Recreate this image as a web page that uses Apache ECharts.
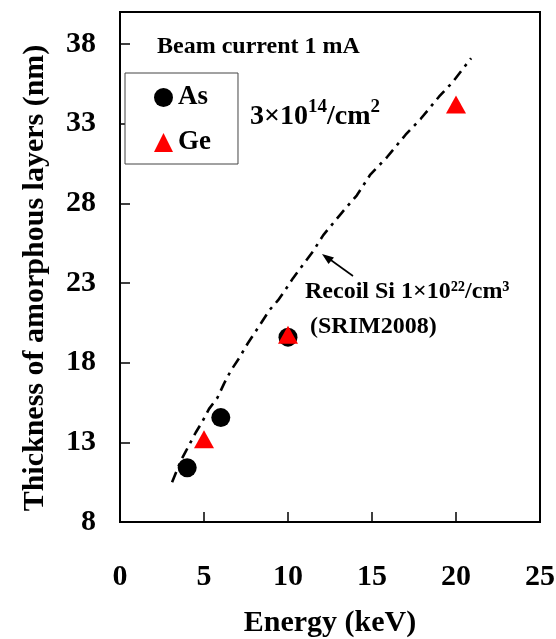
<!DOCTYPE html>
<html>
<head>
<meta charset="utf-8">
<script src="https://cdn.jsdelivr.net/npm/echarts@6/dist/echarts.min.js"></script>
<style>
  html, body { margin: 0; padding: 0; background: #fff; }
  #chart { width: 556px; height: 639px; }
</style>
</head>
<body>
<div id="chart"></div>
<script>
// Amorphous layer thickness vs. implant energy
const SERIF = "'Liberation Serif', 'Times New Roman', serif";

// Measured points: [energy keV, thickness nm]
const asPoints = [[4, 11.4], [6, 14.55], [10, 19.6]];
const gePoints = [[5, 13.2], [10, 19.75], [20, 34.2]];

// SRIM2008 recoil Si range curve
const srimEnergy = [3.1, 3.6, 3.9, 4.5, 4.9, 5.3, 5.8, 6.2, 6.6, 7.1, 7.6, 8.1, 8.9, 9.4, 9.8,
                    10.3, 11.5, 12.1, 13.2, 14.1, 14.9, 15.9, 17.0, 17.9, 19.0, 19.8, 20.9];
const srimDepth  = [10.5, 11.8, 12.4, 13.6, 14.3, 15.1, 15.8, 16.7, 17.5, 18.3, 19.2, 20.0, 21.3, 21.9, 22.5,
                    23.3, 25.0, 26.0, 27.4, 28.5, 29.8, 30.9, 32.3, 33.3, 34.7, 35.6, 37.1];

const xTicks = { min: 0, max: 25, step: 5 };
const yTicks = { min: 8, max: 40, step: 5 };

const chart = echarts.init(document.getElementById('chart'), null, { renderer: 'canvas' });

const boldText = { fontFamily: SERIF, fontWeight: 'bold', color: '#000' };

chart.setOption({
  animation: false,
  backgroundColor: '#fff',
  grid: {
    left: 120, right: 16, top: 12, bottom: 117,
    outerBoundsMode: 'none',
    containLabel: false,
    show: true, borderColor: '#000', borderWidth: 2, backgroundColor: 'transparent'
  },
  xAxis: {
    type: 'value',
    min: xTicks.min, max: xTicks.max, interval: xTicks.step,
    name: 'Energy (keV)',
    nameLocation: 'middle',
    nameGap: 86,
    nameTextStyle: Object.assign({ fontSize: 30 }, boldText),
    axisLine: { lineStyle: { color: '#000', width: 2 } },
    axisTick: { inside: true, length: 10, lineStyle: { color: '#000', width: 1.5 } },
    axisLabel: Object.assign({ fontSize: 30, margin: 40 }, boldText),
    splitLine: { show: false }
  },
  yAxis: {
    type: 'value',
    min: yTicks.min, max: yTicks.max, interval: yTicks.step,
    axisLine: { lineStyle: { color: '#000', width: 2 } },
    axisTick: { inside: true, length: 10, lineStyle: { color: '#000', width: 1.5 } },
    axisLabel: Object.assign({
      fontSize: 30, margin: 24,
      formatter: v => (v > 38 ? '' : String(v))
    }, boldText),
    splitLine: { show: false }
  },
  legend: {
    orient: 'vertical',
    left: 125, top: 73,
    width: 115,
    backgroundColor: '#fff',
    borderColor: '#444', borderWidth: 1,
    padding: [11, 27, 8, 29],
    itemGap: 18,
    itemWidth: 19, itemHeight: 19,
    textStyle: Object.assign({ fontSize: 27, lineHeight: 26 }, boldText),
    data: [
      { name: 'As', icon: 'circle' },
      { name: 'Ge', icon: 'triangle' }
    ]
  },
  graphic: [
    {
      type: 'text', x: 35, y: 278, rotation: Math.PI / 2,
      style: {
        text: 'Thickness of amorphous layers (nm)',
        font: 'bold 30px ' + SERIF, fill: '#000',
        align: 'center', verticalAlign: 'middle'
      }
    },
    {
      type: 'text', left: 157, top: 35,
      style: { text: 'Beam current 1 mA', font: 'bold 24px ' + SERIF, fill: '#000' }
    },
    {
      type: 'text', left: 250, top: 98,
      style: {
        text: '{n|3×10}{s|14}{n|/cm}{s|2}',
        fill: '#000',
        rich: {
          n: { fontFamily: SERIF, fontWeight: 'bold', fontSize: 28, lineHeight: 33, verticalAlign: 'bottom' },
          s: { fontFamily: SERIF, fontWeight: 'bold', fontSize: 19, lineHeight: 19, verticalAlign: 'top' }
        }
      }
    },
    {
      type: 'text', left: 305, top: 280,
      style: { text: 'Recoil Si 1×10²²/cm³', font: 'bold 24px ' + SERIF, fill: '#000' }
    },
    {
      type: 'text', left: 310, top: 315,
      style: { text: '(SRIM2008)', font: 'bold 24px ' + SERIF, fill: '#000' }
    },
    {
      type: 'line',
      shape: { x1: 353, y1: 276, x2: 328, y2: 258 },
      style: { stroke: '#000', lineWidth: 1.6 }
    },
    {
      type: 'polygon',
      shape: { points: [[322, 254], [334, 257.5], [328.5, 264]] },
      style: { fill: '#000' }
    }
  ],
  series: [
    {
      name: 'SRIM2008',
      type: 'line',
      data: srimEnergy.map((e, i) => [e, srimDepth[i]]),
      showSymbol: false,
      symbol: 'none',
      silent: true,
      clip: false,
      lineStyle: { color: '#000', width: 2.6, type: [11, 6, 3, 6] },
      z: 2
    },
    {
      name: 'As',
      type: 'scatter',
      data: asPoints,
      symbol: 'circle',
      symbolSize: 19,
      itemStyle: { color: '#000', opacity: 1 },
      z: 3
    },
    {
      name: 'Ge',
      type: 'scatter',
      data: gePoints,
      symbol: 'triangle',
      symbolSize: [20, 18],
      itemStyle: { color: '#ff0000', opacity: 1 },
      z: 4
    }
  ]
});
</script>
</body>
</html>
